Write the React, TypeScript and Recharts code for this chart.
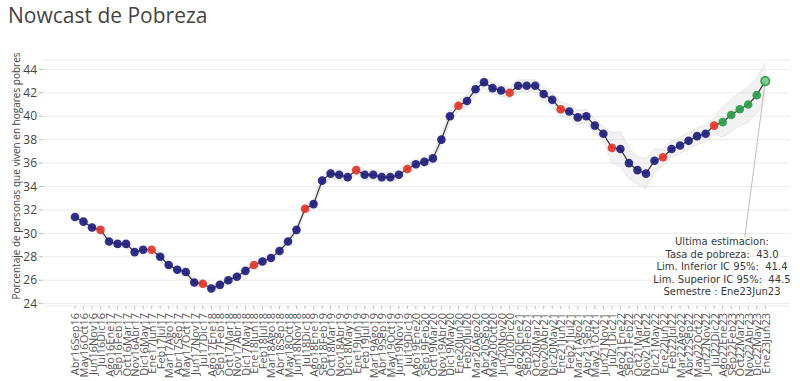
import React from 'react';
import { ComposedChart, Area, Line, XAxis, YAxis, CartesianGrid, ReferenceLine } from 'recharts';

// Rolling six-month windows (start month + end month)
const periods = [
  'Abr16Sep16', 'May16Oct16', 'Jun16Nov16', 'Jul16Dic16', 'Ago16Ene17', 'Sep16Feb17', 'Oct16Mar17', 'Nov16Abr17',
  'Dic16May17', 'Ene17Jun17', 'Feb17Jul17', 'Mar17Ago17', 'Abr17Sep17', 'May17Oct17', 'Jun17Nov17', 'Jul17Dic17',
  'Ago17Ene18', 'Sep17Feb18', 'Oct17Mar18', 'Nov17Abr18', 'Dic17May18', 'Ene18Jun18', 'Feb18Jul18', 'Mar18Ago18',
  'Abr18Sep18', 'May18Oct18', 'Jun18Nov18', 'Jul18Dic18', 'Ago18Ene19', 'Sep18Feb19', 'Oct18Mar19', 'Nov18Abr19',
  'Dic18May19', 'Ene19Jun19', 'Feb19Jul19', 'Mar19Ago19', 'Abr19Sep19', 'May19Oct19', 'Jun19Nov19', 'Jul19Dic19',
  'Ago19Ene20', 'Sep19Feb20', 'Oct19Mar20', 'Nov19Abr20', 'Dic19May20', 'Ene20Jun20', 'Feb20Jul20', 'Mar20Ago20',
  'Abr20Sep20', 'May20Oct20', 'Jun20Nov20', 'Jul20Dic20', 'Ago20Ene21', 'Sep20Feb21', 'Oct20Mar21', 'Nov20Abr21',
  'Dic20May21', 'Ene21Jun21', 'Feb21Jul21', 'Mar21Ago21', 'Abr21Sep21', 'May21Oct21', 'Jun21Nov21', 'Jul21Dic21',
  'Ago21Ene22', 'Sep21Feb22', 'Oct21Mar22', 'Nov21Abr22', 'Dic21May22', 'Ene22Jun22', 'Feb22Jul22', 'Mar22Ago22',
  'Abr22Sep22', 'May22Oct22', 'Jun22Nov22', 'Jul22Dic22', 'Ago22Ene23', 'Sep22Feb23', 'Oct22Mar23', 'Nov22Abr23',
  'Dic22May23', 'Ene23Jun23',
];

const poverty = [
  31.4, 31.0, 30.5, 30.3, 29.3, 29.1, 29.1, 28.4, 28.6, 28.6,
  28.0, 27.3, 26.9, 26.7, 25.8, 25.7, 25.3, 25.6, 26.0, 26.3,
  26.8, 27.3, 27.6, 27.9, 28.5, 29.3, 30.3, 32.1, 32.5, 34.5,
  35.1, 35.0, 34.8, 35.4, 35.0, 35.0, 34.8, 34.8, 35.0, 35.5,
  35.9, 36.1, 36.4, 38.0, 40.0, 40.9, 41.3, 42.3, 42.9, 42.4,
  42.2, 42.0, 42.6, 42.6, 42.6, 41.9, 41.4, 40.6, 40.4, 39.9,
  40.0, 39.2, 38.5, 37.3, 37.2, 36.0, 35.4, 35.1, 36.2, 36.5,
  37.2, 37.5, 37.9, 38.3, 38.5, 39.2, 39.5, 40.1, 40.6, 41.0,
  41.8, 43.0,
];

// half width of the 95% band
const ciHalf = [
  0.3, 0.3, 0.3, 0.3, 0.3, 0.3, 0.3, 0.3, 0.3, 0.3,
  0.3, 0.3, 0.3, 0.3, 0.3, 0.3, 0.3, 0.3, 0.3, 0.3,
  0.3, 0.3, 0.3, 0.3, 0.3, 0.3, 0.3, 0.4, 0.4, 0.4,
  0.4, 0.4, 0.4, 0.4, 0.4, 0.4, 0.4, 0.4, 0.4, 0.4,
  0.4, 0.4, 0.4, 0.5, 0.5, 0.5, 0.5, 0.5, 0.5, 0.5,
  0.5, 0.5, 0.5, 0.5, 0.5, 0.6, 0.6, 0.6, 0.6, 0.6,
  0.6, 0.6, 0.6, 1.3, 1.5, 1.3, 1.2, 1.3, 1.0, 0.7,
  0.7, 0.7, 0.7, 0.7, 0.7, 0.7, 1.3, 1.4, 1.4, 1.5,
  1.5, 1.55,
];

// official (semester) observations and nowcast points
const observedIdx = [3, 9, 15, 21, 27, 33, 39, 45, 51, 57, 63, 69, 75];
const forecastIdx = [76, 77, 78, 79, 80, 81];
const yTicks = [24, 26, 28, 30, 32, 34, 36, 38, 40, 42, 44];

const annotation = [
  'Ultima estimacion:',
  'Tasa de pobreza:  43.0',
  'Lim. Inferior IC 95%:  41.4',
  'Lim. Superior IC 95%:  44.5',
  'Semestre : Ene23Jun23',
];

const data = periods.map((p, i) => ({
  idx: i,
  label: p,
  value: poverty[i],
  band: [poverty[i] - ciHalf[i], poverty[i] + ciHalf[i]],
}));

const FONT = '"Open Sans", "DejaVu Sans", Arial, sans-serif';

const renderDot = (props: any) => {
  const { cx, cy, index } = props;
  const last = index === periods.length - 1;
  let fill = '#201d7c';
  if (observedIdx.includes(index)) fill = '#e2362c';
  if (forecastIdx.includes(index)) fill = '#2b9c4a';
  return (
    <circle
      key={`dot-${index}`}
      cx={cx}
      cy={cy}
      r={4.3}
      fill={last ? '#6fcb88' : fill}
      fillOpacity={0.92}
      stroke={last ? '#2b9c4a' : 'none'}
      strokeWidth={last ? 1.5 : 0}
    />
  );
};

const XTick = (props: any) => {
  const { x, y, payload } = props;
  return (
    <text
      x={x}
      y={y}
      transform={`rotate(-90, ${x}, ${y})`}
      textAnchor="end"
      dominantBaseline="central"
      fontSize={11}
      fill="#555"
      fontFamily={FONT}
    >
      {periods[payload.value]}
    </text>
  );
};

export default function App() {
  return (
    <div style={{ position: 'absolute', left: 0, top: 0, width: 800, height: 381, background: '#fff' }}>
      <div
        style={{
          position: 'absolute',
          left: 8,
          top: 1,
          fontFamily: FONT,
          fontSize: 21,
          color: '#444',
        }}
      >
        Nowcast de Pobreza
      </div>
      <ComposedChart
        width={800}
        height={381}
        data={data}
        margin={{ top: 60, right: 10, left: 0, bottom: 0 }}
      >
        <CartesianGrid vertical={false} stroke="#ebebeb" />
        <XAxis
          type="number"
          dataKey="idx"
          domain={[-3.75, 83.9]}
          ticks={data.map((d) => d.idx)}
          interval={0}
          height={75}
          axisLine={false}
          tickLine={{ stroke: '#bbb' }}
          tickSize={3}
          tickMargin={4}
          tick={<XTick />}
          allowDataOverflow
        />
        <YAxis
          type="number"
          domain={[23.8, 44.8]}
          ticks={yTicks}
          width={43}
          axisLine={false}
          tickLine={{ stroke: '#bbb' }}
          tickSize={4}
          tick={{ fontSize: 12, fill: '#444', fontFamily: FONT }}
          allowDataOverflow
        />
        <Area
          type="linear"
          dataKey="band"
          stroke="#e6e6e6"
          strokeWidth={1}
          fill="#d9d9d9"
          fillOpacity={0.35}
          isAnimationActive={false}
          dot={false}
          activeDot={false}
        />
        <ReferenceLine
          segment={[{ x: 81, y: 43.0 }, { x: 78.6, y: 29.7 }]}
          stroke="#bdbdbd"
          strokeWidth={1}
        />
        <Line
          type="linear"
          dataKey="value"
          stroke="#333"
          strokeWidth={1.2}
          dot={renderDot}
          activeDot={false}
          isAnimationActive={false}
        />
      </ComposedChart>
      <svg
        width={800}
        height={381}
        style={{ position: 'absolute', left: 0, top: 0, pointerEvents: 'none' }}
      >
        <text
          x={16}
          y={176}
          transform="rotate(-90, 16, 176)"
          textAnchor="middle"
          dominantBaseline="central"
          fontSize={10}
          fill="#444"
          fontFamily={FONT}
        >
          Porcentaje de personas que viven en hogares pobres
        </text>
        {annotation.map((t, i) => (
          <text
            key={t}
            x={722}
            y={245 + i * 12.5}
            textAnchor="middle"
            fontSize={10}
            fill="#3a3a3a"
            fontFamily='"DejaVu Sans", Verdana, sans-serif'
            style={{ whiteSpace: 'pre' }}
          >
            {t}
          </text>
        ))}
      </svg>
    </div>
  );
}
